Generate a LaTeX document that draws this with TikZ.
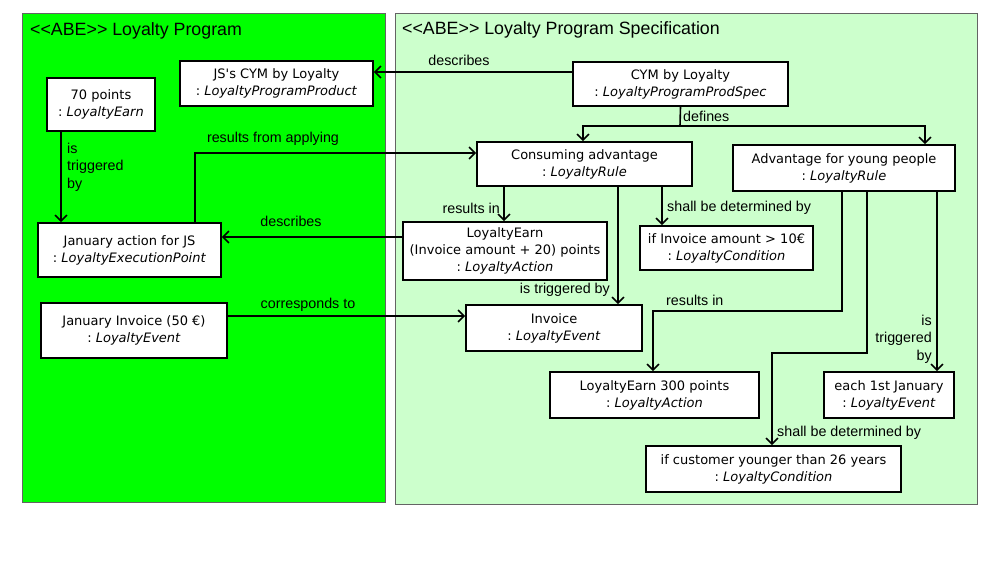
\documentclass[tikz,border=0pt]{standalone}
\usepackage{fontspec}
\setmainfont{DejaVu Sans}
\newfontfamily\lblfont{Liberation Sans}[Ligatures=TeXOff]
\usetikzlibrary{arrows.meta}
\definecolor{darkpkg}{RGB}{0,255,0}
\definecolor{lightpkg}{RGB}{204,255,204}
\definecolor{pkgborder}{RGB}{100,100,100}
\begin{document}
\begin{tikzpicture}[x=1pt,y=-1pt,
  box/.style={draw=black, line width=1.6pt, fill=white, align=center, inner sep=0pt,
    font=\fontsize{13}{17}\selectfont},
  container/.style={draw=pkgborder, line width=0.8pt, anchor=north west, inner sep=0pt},
  conn/.style={line width=1.6pt, draw=black},
  arr/.style={conn, -{Straight Barb[length=6pt,width=12pt,line width=1.6pt]}},
  lbl/.style={font=\lblfont\fontsize{14.3}{17.5}\selectfont, inner sep=0pt},
  ttl/.style={font=\lblfont\fontsize{17.8}{20}\selectfont, inner sep=0pt, anchor=west},
]
\useasboundingbox (0,0) rectangle (991,572);
\fill[white] (0,0) rectangle (991,572);

% containers
\node[container, fill=darkpkg, minimum width=363pt, minimum height=489pt] (lp) at (22,13) {};
\node[container, fill=lightpkg, minimum width=582pt, minimum height=491pt] (lps) at (395,13) {};
\node[ttl] (lpt) at (30,31) {<<ABE>> Loyalty Program};
\node[ttl] (lpst) at (402,30) {<<ABE>> Loyalty Program Specification};

% boxes
\node[box, minimum width=193pt, minimum height=45pt] (jscym) at (276.5,83.5)
  {JS\textquotesingle s CYM by Loyalty\\:~\textit{LoyaltyProgramProduct}};
\node[box, minimum width=108pt, minimum height=53pt] (pts70) at (101,104.5)
  {70 points\\:~\textit{LoyaltyEarn}};
\node[box, minimum width=183pt, minimum height=54pt] (janaction) at (129.5,250)
  {January action for JS\\:~\textit{LoyaltyExecutionPoint}};
\node[box, minimum width=186pt, minimum height=55pt] (janinv) at (134,330.5)
  {January Invoice (50 €)\\:~\textit{LoyaltyEvent}};
\node[box, minimum width=215pt, minimum height=44pt] (cym) at (680.5,84)
  {CYM by Loyalty\\:~\textit{LoyaltyProgramProdSpec}};
\node[box, minimum width=215pt, minimum height=44pt] (consuming) at (584.5,164)
  {Consuming advantage\\:~\textit{LoyaltyRule}};
\node[box, minimum width=222pt, minimum height=46pt] (advantage) at (844,168)
  {Advantage for young people\\:~\textit{LoyaltyRule}};
\node[box, minimum width=204pt, minimum height=58pt] (earn) at (505,251)
  {LoyaltyEarn\\(Invoice amount + 20) points\\:~\textit{LoyaltyAction}};
\node[box, minimum width=173pt, minimum height=44pt] (ifinv) at (726.5,248)
  {if Invoice amount > 10€\\:~\textit{LoyaltyCondition}};
\node[box, minimum width=176pt, minimum height=46pt] (invoice) at (554,328)
  {Invoice\\:~\textit{LoyaltyEvent}};
\node[box, minimum width=209pt, minimum height=46pt] (earn300) at (654.5,395)
  {LoyaltyEarn 300 points\\:~\textit{LoyaltyAction}};
\node[box, minimum width=130pt, minimum height=46pt] (jan1) at (889,395)
  {each 1st January\\:~\textit{LoyaltyEvent}};
\node[box, minimum width=255pt, minimum height=46pt] (cust) at (773.5,469)
  {if customer younger than 26 years\\:~\textit{LoyaltyCondition}};

% connectors
\draw[arr] ([yshift=12pt]cym.west) -- ([yshift=12pt]cym.west -| jscym.east);
\node[lbl] (l1) at (459,60) {describes};

\coordinate (dj) at (680,126);
\draw[conn] (cym.south) -- (dj);
\draw[arr] (dj) -| ([xshift=-1.5pt]consuming.north);
\draw[arr] (dj) -| ([xshift=81pt]advantage.north);
\node[lbl, anchor=west] (l2) at (683,116) {defines};

\draw[arr] ([xshift=65.5pt]janaction.north) |- ([yshift=11pt]consuming.west);
\node[lbl] (l3) at (273,139) {results from applying};

\draw[arr] ([yshift=14pt]earn.west) -- ([yshift=14pt]earn.west -| janaction.east);
\node[lbl] (l4) at (291,221) {describes};

\draw[arr] ([xshift=-40pt]pts70.south) -- ([xshift=-40pt]pts70.south |- janaction.north);
\node[lbl, anchor=west, align=left] (l5) at (67,167) {is\\triggered\\by};

\draw[arr] ([yshift=14.5pt]janinv.east) -- ([yshift=14.5pt]janinv.east -| invoice.west);
\node[lbl] (l6) at (308,305) {corresponds to};

\draw[arr] ([xshift=-80.5pt]consuming.south) -- ([xshift=-80.5pt]consuming.south |- earn.north);
\node[lbl, anchor=east] (l7) at (500,208) {results in};

\draw[arr] ([xshift=33.5pt]consuming.south) -- ([xshift=33.5pt]consuming.south |- invoice.north);
\node[lbl, anchor=east] (l8) at (610,290) {is triggered by};

\draw[arr] ([xshift=77.5pt]consuming.south) -- ([xshift=77.5pt]consuming.south |- ifinv.north);
\node[lbl, anchor=west] (l9) at (667,208) {shall be determined by};

\coordinate (b1) at (842,311);
\draw[arr] ([xshift=-2pt]advantage.south) -- (b1) -| ([xshift=-1.5pt]earn300.north);
\node[lbl, anchor=west] (l10) at (666,300) {results in};

\coordinate (b2) at (867,353);
\draw[arr] ([xshift=23pt]advantage.south) -- (b2) -| ([xshift=-1.5pt]cust.north);
\node[lbl, anchor=west] (l11) at (777,433) {shall be determined by};

\draw[arr] ([xshift=93pt]advantage.south) -- ([xshift=93pt]advantage.south |- jan1.north);
\node[lbl, anchor=east, align=right] (l12) at (932,339) {is\\triggered\\by};
\end{tikzpicture}
\end{document}
